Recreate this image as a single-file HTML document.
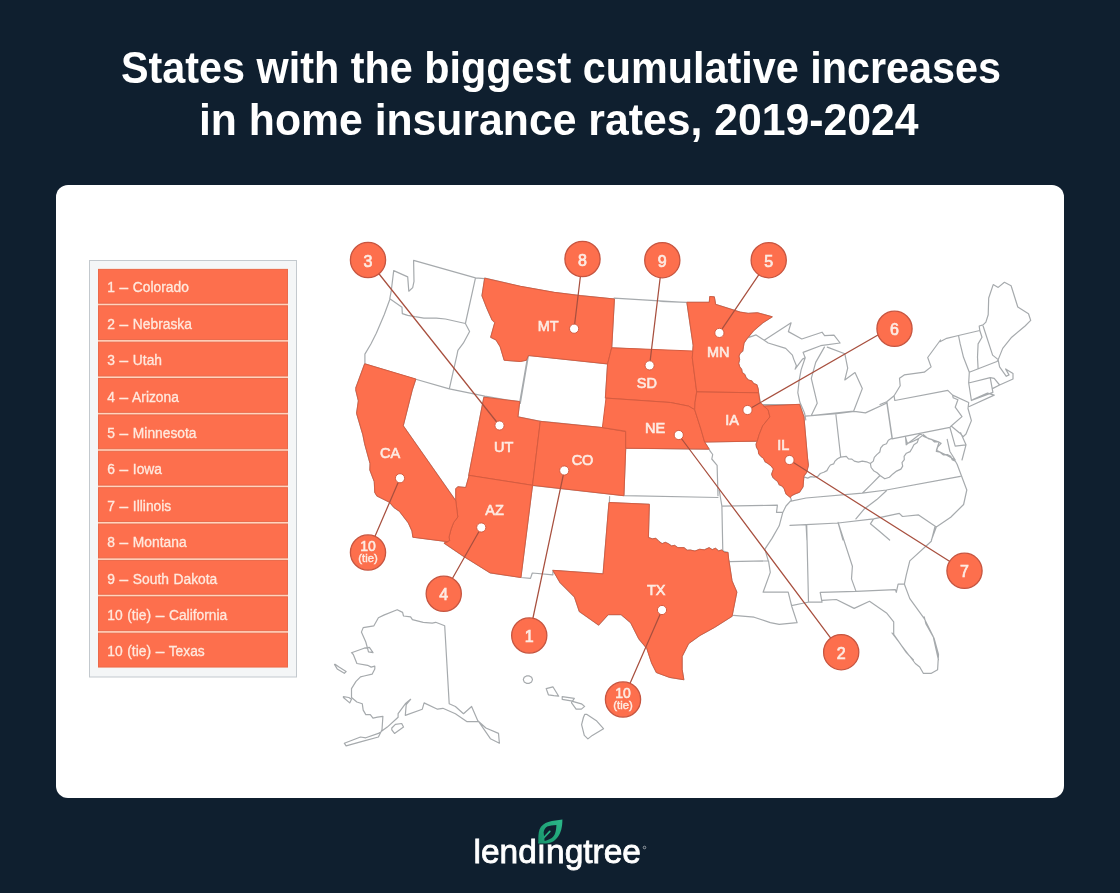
<!DOCTYPE html>
<html><head><meta charset="utf-8"><title>States with the biggest cumulative increases in home insurance rates</title>
<style>
html,body{margin:0;padding:0;width:1120px;height:893px;overflow:hidden;background:#0f1f2f;}
svg{position:absolute;left:0;top:0;filter:blur(0.45px);font-family:"Liberation Sans",sans-serif;}
</style></head><body>
<svg width="1120" height="893" viewBox="0 0 1120 893">
<rect x="56" y="185" width="1008" height="613" rx="12" fill="#fff"/>
<rect x="89.5" y="260.5" width="207" height="416.5" fill="#f4f6f7" stroke="#c3c9ce" stroke-width="1"/>
<rect x="98" y="268.9" width="190" height="398.6" fill="#ffd3bd"/>
<rect x="98.5" y="269.40" width="189" height="33.78" fill="#fd6f4d" stroke="#ea6a4b" stroke-width="1"/>
<text x="107.3" y="292.49" font-size="13.8" word-spacing="0.8" fill="#ffe9de" stroke="#ffe9de" stroke-width="0.3">1 <tspan font-size="15.5">–</tspan> Colorado</text>
<rect x="98.5" y="305.78" width="189" height="33.78" fill="#fd6f4d" stroke="#ea6a4b" stroke-width="1"/>
<text x="107.3" y="328.87" font-size="13.8" word-spacing="0.8" fill="#ffe9de" stroke="#ffe9de" stroke-width="0.3">2 <tspan font-size="15.5">–</tspan> Nebraska</text>
<rect x="98.5" y="342.16" width="189" height="33.78" fill="#fd6f4d" stroke="#ea6a4b" stroke-width="1"/>
<text x="107.3" y="365.25" font-size="13.8" word-spacing="0.8" fill="#ffe9de" stroke="#ffe9de" stroke-width="0.3">3 <tspan font-size="15.5">–</tspan> Utah</text>
<rect x="98.5" y="378.55" width="189" height="33.78" fill="#fd6f4d" stroke="#ea6a4b" stroke-width="1"/>
<text x="107.3" y="401.64" font-size="13.8" word-spacing="0.8" fill="#ffe9de" stroke="#ffe9de" stroke-width="0.3">4 <tspan font-size="15.5">–</tspan> Arizona</text>
<rect x="98.5" y="414.93" width="189" height="33.78" fill="#fd6f4d" stroke="#ea6a4b" stroke-width="1"/>
<text x="107.3" y="438.02" font-size="13.8" word-spacing="0.8" fill="#ffe9de" stroke="#ffe9de" stroke-width="0.3">5 <tspan font-size="15.5">–</tspan> Minnesota</text>
<rect x="98.5" y="451.31" width="189" height="33.78" fill="#fd6f4d" stroke="#ea6a4b" stroke-width="1"/>
<text x="107.3" y="474.40" font-size="13.8" word-spacing="0.8" fill="#ffe9de" stroke="#ffe9de" stroke-width="0.3">6 <tspan font-size="15.5">–</tspan> Iowa</text>
<rect x="98.5" y="487.69" width="189" height="33.78" fill="#fd6f4d" stroke="#ea6a4b" stroke-width="1"/>
<text x="107.3" y="510.78" font-size="13.8" word-spacing="0.8" fill="#ffe9de" stroke="#ffe9de" stroke-width="0.3">7 <tspan font-size="15.5">–</tspan> Illinois</text>
<rect x="98.5" y="524.07" width="189" height="33.78" fill="#fd6f4d" stroke="#ea6a4b" stroke-width="1"/>
<text x="107.3" y="547.16" font-size="13.8" word-spacing="0.8" fill="#ffe9de" stroke="#ffe9de" stroke-width="0.3">8 <tspan font-size="15.5">–</tspan> Montana</text>
<rect x="98.5" y="560.45" width="189" height="33.78" fill="#fd6f4d" stroke="#ea6a4b" stroke-width="1"/>
<text x="107.3" y="583.55" font-size="13.8" word-spacing="0.8" fill="#ffe9de" stroke="#ffe9de" stroke-width="0.3">9 <tspan font-size="15.5">–</tspan> South Dakota</text>
<rect x="98.5" y="596.84" width="189" height="33.78" fill="#fd6f4d" stroke="#ea6a4b" stroke-width="1"/>
<text x="107.3" y="619.93" font-size="13.8" word-spacing="0.8" fill="#ffe9de" stroke="#ffe9de" stroke-width="0.3">10 (tie) <tspan font-size="15.5">–</tspan> California</text>
<rect x="98.5" y="633.22" width="189" height="33.78" fill="#fd6f4d" stroke="#ea6a4b" stroke-width="1"/>
<text x="107.3" y="656.31" font-size="13.8" word-spacing="0.8" fill="#ffe9de" stroke="#ffe9de" stroke-width="0.3">10 (tie) <tspan font-size="15.5">–</tspan> Texas</text>
<g fill="none" stroke="#a6aaad" stroke-width="1.2" stroke-linejoin="round" stroke-linecap="round"><path d="M413.6,260.4 L414.0,281.4 L412.7,287.6 L408.8,291.2 L407.7,276.9 L393.7,270.6 L391.2,291.2 L389.8,298.7M413.6,260.4 L475.5,277.8 L484.4,278.7M475.5,277.8 L465.4,323.5M389.8,298.7 L392.0,300.2 L402.0,307.3 L402.3,313.6 L407.7,315.4 L414.9,316.7 L423.9,318.1 L436.4,318.1 L445.4,319.0 L465.4,323.5M389.7,299.7 L384.3,314.5 L376.3,333.3 L370.9,344.0 L364.9,354.1 L364.9,362.9M465.4,323.5 L469.6,331.5 L463.3,343.2 L457.9,350.4 L457.0,354.8 L449.3,388.9M364.7,363.8 L414.9,379.0 L449.3,388.9M449.3,388.9 L484.8,396.1 L519.7,402.3M527.8,355.7 L519.7,402.3M484.7,278.2 L520.3,286.3 L553.9,292.3 L580.8,295.7 L614.4,299.0M614.1,298.2 L680.0,302.1M614.4,299.0 L611.7,347.8 L607.6,363.9M607.6,363.9 L605.4,398.0M607.6,363.9 L528.4,355.5M528.4,355.5 L526.4,360.2 L520.3,361.5 L504.2,360.2 L500.2,346.7 L496.1,340.0 L490.7,337.3 L494.8,322.6 L492.1,319.9 L486.7,307.8 L482.0,295.7 L484.7,278.2M528.4,355.9 L520.3,403.4M611.7,347.8 L680.0,351.4M686.9,302.3 L709.3,302.3 L709.8,296.5 L714.3,296.9 L715.6,304.4 L740.0,312.1 L748.1,313.4 L757.5,312.8 L772.2,316.8M660.0,301.4 L686.9,302.3M772.2,316.8 L762.8,322.8 L753.4,330.9 L746.7,339.0 L744.0,343.0 L742.7,351.1M742.7,351.1 L740.2,353.1 L738.9,356.0 L739.6,359.6 L738.6,363.3 L739.7,366.8 L741.6,369.3 L742.2,372.6 L744.8,374.6 L746.0,377.5 L748.3,380.0 L751.6,380.8 L753.7,383.6 L756.8,384.7 L758.1,388.7 L758.6,392.8M686.9,302.3 L693.2,345.3 L692.3,357.8 L696.7,391.9M696.7,391.9 L758.6,392.8M696.7,391.9 L694.9,402.6 L699.4,413.4 L703.0,430.0M758.6,392.8 L760.4,402.6 L767.5,411.6 L769.3,418.7M748.1,337.6 L756.1,334.9 L764.2,340.3 L791.1,322.8 L788.4,331.6 L801.8,339.0 L822.0,332.2 L824.6,335.6 L834.0,335.2 L840.1,343.0 L820.6,345.7 L803.1,352.4 L805.2,357.8M764.2,340.3 L768.2,343.0 L785.7,348.4 L792.4,355.1 L793.7,359.1 L796.4,365.8 L795.1,369.2 L802.5,359.1 L805.2,357.8M805.2,357.8 L801.1,369.9 L799.1,380.6 L797.8,392.7 L799.8,402.1 L804.5,412.9 L805.8,420.0M760.4,404.6 L799.7,404.6M824.4,347.1 L815.7,362.4 L811.3,378.4 L817.2,403.2 L811.3,415.5 L853.6,411.2 L862.3,388.6 L855.0,372.6 L844.8,379.9 L847.7,368.2 L844.8,353.7 L827.3,347.1M364.7,363.8 L355.8,388.0M355.8,390.0 L358.4,400.8 L356.6,413.3 L362.9,434.8 L364.7,443.8 L370.1,463.5 L369.9,470.0 L374.3,481.6 L374.8,492.4 L377.0,496.0 L389.6,502.3 L394.1,507.6 L399.4,511.2 L408.4,522.9 L412.0,530.9 L412.9,537.2M412.9,537.2 L447.8,541.7 L444.3,543.2M412.2,390.0 L403.2,425.8 L455.8,500.9M415.8,379.0 L412.2,390.0M455.8,500.9 L457.8,517.0 L453.7,522.4 L451.1,529.1 L449.0,537.2 L449.7,540.5 L444.3,543.2M483.9,397.2 L468.7,475.7M469.2,475.4 L465.8,487.5 L457.8,486.8 L455.8,488.8 L455.8,500.9M483.9,397.2 L519.7,401.6 L517.9,416.9 L540.3,421.4M469.2,475.4 L532.5,485.3M540.3,421.4 L532.5,485.3M520.0,418.7 L541.5,421.4 L602.4,427.6M602.4,427.6 L625.7,431.6 L625.7,448.2M625.7,448.2 L623.9,495.7M532.5,485.3 L623.9,495.7M606.0,398.1 L670.5,402.5 L688.5,406.1 L694.7,409.7M694.7,409.7 L701.0,429.4 L704.6,442.0 L709.1,449.1M625.7,448.2 L709.1,449.1M709.1,449.1 L710.0,450.9 L712.7,454.5 L711.8,459.0 L717.1,465.3 L718.0,495.7M623.9,495.7 L718.0,497.5M609.6,496.6 L607.8,550.0M757.3,390.0 L760.0,402.5 L768.1,409.7 L769.9,416.9 L762.7,425.8 L759.1,434.8 L757.3,441.1M700.0,442.0 L757.3,441.1M701.8,420.5 L703.6,442.0 L709.0,449.1M757.3,441.1 L756.1,444.1 L756.5,447.3 L758.3,450.1 L758.7,453.7 L760.9,456.3 L763.6,458.4 L765.1,461.7 L768.1,463.5 L771.1,465.9 L773.5,468.9 L771.7,474.2 L772.8,477.3 L775.3,479.6 L777.8,481.6 L779.2,484.7 L782.3,486.1 L784.2,488.6 L786.0,493.9 L790.5,497.5 L791.4,500.2M763.6,406.1 L799.5,404.3M799.5,404.3 L803.9,416.9 L807.5,458.1 L808.4,465.3 L806.6,472.4 L803.9,476.0 L803.0,486.8 L799.5,492.2 L795.0,493.9 L791.4,495.7M886.9,401.6 L892.3,438.4M444.3,543.2 L463.1,556.0 L490.0,572.8 L520.9,577.5M532.5,485.3 L520.9,577.5M520.6,577.5 L530.5,578.4 L532.3,573.0 L552.9,574.8 L552.9,570.3M552.9,570.3 L603.1,573.9M603.1,573.9 L609.0,502.5M609.0,502.5 L649.3,504.3 L648.4,537.5M648.4,537.5 L652.3,538.9 L655.8,538.3 L659.0,541.5 L662.1,543.7 L665.3,542.4 L668.4,543.8 L671.5,546.0 L674.6,545.4 L677.8,547.7 L684.0,547.7 L687.1,550.3 L690.3,550.1 L695.0,551.1 L699.7,549.3 L704.4,549.9 L709.1,547.7 L712.2,549.7 L715.4,548.3 L718.6,550.9 L721.7,550.1 L724.8,552.6 L727.9,552.4M719.2,490.0 L721.9,506.1 L722.8,550.9 L728.1,552.7M721.9,506.1 L777.4,505.2 L776.5,512.4 L782.8,512.4M782.8,512.4 L779.2,525.8 L772.0,538.4 L764.9,549.1 L768.5,561.7M729.0,561.7 L768.5,560.8M768.5,560.8 L770.3,572.4 L763.1,592.2 L788.2,592.2 L791.8,606.5 L797.1,622.6M733.5,615.4 L754.1,617.2 L770.3,622.6 L779.2,624.4 L797.1,622.6M934.9,526.9 L931.3,541.2 L909.8,560.9M909.8,560.9 L906.2,575.3 L904.4,584.2M856.0,591.4 L895.4,589.6 L896.3,592.3 L898.1,584.2 L904.4,584.2M838.1,522.4 L852.4,566.3 L851.5,578.9 L856.0,591.4M820.2,592.3 L856.0,591.4M806.7,525.1 L808.5,602.2M808.5,602.2 L822.0,602.2 L820.2,592.3M822.0,600.4 L836.3,599.5 L854.2,608.4 L869.5,601.3 L886.5,612.9 L893.7,621.9 L893.7,634.4 L906.2,652.3 L913.4,660.0M904.4,584.2 L909.8,598.6 L924.1,618.3 L933.1,636.2 L938.5,660.0M791.5,605.7 L804.1,603.0 L808.5,602.2M892.0,633.0 L915.3,663.5 L919.7,667.0 L923.3,673.3 L931.4,673.3 L937.6,669.7 L938.5,654.5 L934.1,638.4 L926.0,624.0 L924.2,616.9M560.0,582.5 L574.5,597.0 L579.3,611.4 L598.6,625.1 L608.2,614.6 L621.1,614.6 L630.7,622.7 L638.8,638.8 L646.8,648.4 L651.6,662.9 L656.4,672.5 L669.3,677.3 L683.8,679.7 L682.1,669.3 L682.1,656.4 L688.6,643.6 L699.8,635.5 L714.3,627.5 L732.0,616.3 L733.6,608.2 L736.8,592.1 L732.0,580.9 L728.8,560.0M728.1,552.7 L729.0,577.8 L732.0,580.9 L736.8,592.1 L733.6,608.2 L732.0,616.3M552.9,570.3 L560.0,582.5 L574.5,597.0 L579.3,611.4 L598.6,625.1 L608.2,614.6 L621.1,614.6 L630.7,622.7 L638.8,638.8M805.3,416.1 L836.6,413.7 L854.3,411.3M854.3,411.3 L865.5,412.9 L886.4,403.2M835.8,413.7 L840.6,456.3M804.5,477.1 L807.7,478.1 L810.9,476.6 L814.1,477.1 L817.8,476.4 L820.3,473.5 L823.8,472.3 L826.9,470.6 L828.6,467.5 L830.4,465.0 L833.6,463.9 L835.0,461.1 L837.5,458.7 L840.6,457.1 L846.3,456.3 L848.5,458.8 L851.9,459.1 L854.3,461.1 L858.3,462.1 L862.3,461.1 L866.5,461.8 L870.4,463.5 L873.3,461.1 L874.3,457.3 L876.8,454.6 L879.8,452.0 L880.7,447.9 L883.2,445.0 L886.5,443.7 L888.3,440.3 L891.3,438.6M870.4,463.5 L871.1,467.5 L873.6,470.7 L877.1,472.7 L880.0,475.5 L884.8,478.8 L889.4,477.2 L892.9,473.9 L896.6,471.1 L900.9,469.1 L902.7,466.1 L902.0,462.6 L904.3,459.7 L904.1,456.3 L906.4,453.2 L910.1,451.6 L912.1,448.2 L913.9,444.7 L917.3,442.4 L918.6,438.6 L923.4,434.6 L928.2,438.6 L931.6,439.3 L934.3,441.9 L938.0,441.7 L941.1,443.4 L937.8,446.9 L936.3,451.4 L940.1,452.2 L943.2,454.8 L947.3,454.6 L950.7,456.3 L952.1,459.6 L955.4,461.3 L957.1,464.3M905.7,437.8 L907.3,443.4 L912.1,441.8 L918.6,438.6M880.0,475.5 L872.0,483.6 L862.3,493.2M790.0,501.3 L806.1,498.0 L862.3,493.2 L886.4,490.0 L960.4,476.3M886.4,490.8 L876.8,499.6 L863.9,509.3 L855.9,518.9M790.0,525.4 L806.1,524.6 L838.2,523.0 L873.6,518.9 L899.3,513.3 L902.5,516.5 L918.6,514.9 L936.3,527.0M957.1,464.3 L966.8,490.0 L963.6,504.5 L950.7,517.3 L936.3,527.0 L931.4,540.0M806.1,524.6 L806.9,540.0M838.2,523.0 L843.0,540.0M873.6,518.9 L870.4,523.8 L880.0,531.8 L889.6,540.0M880.0,404.5 L886.7,401.8 L894.1,395.8 L900.2,385.7 L899.5,378.3 L904.2,374.9 L924.3,372.2 L931.1,366.9 L927.7,357.5 L940.5,340.0M894.1,395.8 L894.8,400.5 L947.8,390.4 L952.6,395.1 L953.2,397.8M886.7,401.8 L892.1,438.8M892.1,438.8 L949.9,427.3M953.2,397.8 L957.9,399.8 L955.2,407.2 L962.0,416.6 L951.2,426.0 L949.9,427.3M952.6,395.1 L968.7,402.5M968.7,402.5 L968.0,408.5 L971.4,420.6 L966.0,434.0 L963.3,436.7M951.2,426.0 L959.3,432.7 L963.3,436.7M949.9,427.3 L955.2,446.1 L966.0,444.8 L960.6,432.7M966.0,444.8 L962.0,460.0M905.5,436.7 L906.2,444.8 L920.3,434.0 L924.3,436.7 L931.1,439.4 L939.1,442.1 L936.4,450.2 L947.2,455.5 L955.2,460.0M947.2,439.4 L949.9,451.5 L955.2,460.0M969.3,406.5 L994.2,395.1 L987.5,393.1 L974.0,399.1 L971.4,400.5M969.3,372.2 L968.7,383.0 L971.4,400.5M968.7,383.0 L990.2,377.6 L992.9,392.4 L971.4,400.5M990.2,377.6 L994.2,378.3 L999.6,385.0 L992.9,388.4M969.3,372.2 L996.9,361.5 L998.2,360.2 L999.6,366.9 L1006.3,376.3 L1009.0,374.9 L1005.6,368.9 L1013.0,373.6 L1013.0,379.0 L999.6,385.0M791.4,500.2 L786.0,506.0 L782.8,512.4M940.0,341.7 L946.7,338.3 L958.5,335.5 L979.8,330.5 L979.2,326.0 L983.1,324.9 L985.9,322.1 L988.2,314.8 L988.7,298.0 L993.2,284.6 L998.2,287.4 L1004.4,282.3 L1011.1,285.7 L1017.8,307.0 L1028.5,313.7 L1030.7,320.4 L1025.1,326.0 L1011.7,337.2 L1002.7,348.4 L998.2,359.6M958.5,335.5 L960.2,343.9 L963.5,357.3 L969.3,372.2M979.8,330.5 L982.0,337.2 L978.1,343.9 L977.5,357.3 L978.1,368.8M983.1,326.0 L992.6,355.1 L998.2,359.6"/><path d="M397.2,609.7 L402.6,612.4 L403.5,616.0 L410.6,616.9 L412.4,619.6 L423.2,622.3 L432.2,623.2 L435.7,622.3 L444.7,625.8 L449.2,703.8 L455.4,706.5 L463.5,713.7 L471.6,706.5 L477.8,720.8 L485.9,728.0 L498.5,733.4 L499.4,743.2 L490.4,738.7 L478.7,721.7 L467.1,721.7 L455.4,713.7 L442.9,708.3 L437.5,709.2 L424.1,702.9 L422.3,709.2 L405.3,715.4 L406.2,704.7 L410.6,699.3 L405.3,703.8 L398.1,713.7 L398.1,717.2 L387.3,727.1 L378.4,733.4 L365.8,737.8 L360.5,737.0 L344.3,743.2 L346.1,745.9 L362.3,741.4 L378.4,737.0 L382.0,729.8 L382.9,716.3 L377.5,717.2 L373.0,718.1 L370.3,714.6 L365.8,714.6 L363.2,710.1 L362.3,703.8 L356.9,702.0 L351.5,697.5 L351.5,688.6 L356.0,681.4 L360.5,676.9 L364.1,676.0 L372.1,674.2 L374.8,668.9 L374.8,666.2 L371.2,667.1 L367.6,665.3 L356.9,663.5 L353.3,654.5 L351.5,652.7 L364.1,648.2 L369.4,647.3 L373.0,652.7 L368.5,651.8 L365.8,642.0 L361.4,632.1 L363.2,627.6 L373.9,625.8 L378.4,617.8 L383.8,615.1ZM334.5,664.4 L337.2,668.9 L344.3,673.3 L346.1,671.5 L339.0,667.1 L335.4,664.4ZM343.4,696.6 L348.8,697.5 L351.5,699.3 L349.7,702.9 L343.4,697.5ZM391.8,728.0 L395.4,724.4 L401.7,723.5 L403.5,727.1 L394.5,733.4 L391.8,729.8ZM546.2,688.6 L552.9,686.8 L558.7,696.2 L553.8,695.7 L548.4,694.8ZM562.2,696.6 L574.3,698.4 L572.5,701.1 L562.2,699.3ZM571.6,701.1 L581.4,703.8 L584.6,706.4 L581.4,709.1 L576.1,709.1 L571.6,702.9ZM584.7,714.4 L587.0,714.4 L596.8,721.1 L603.5,728.7 L592.3,735.4 L587.9,738.9 L584.3,735.4 L581.6,724.6 L583.4,717.5ZM532.5,679.6 L531.6,681.9 L529.3,683.3 L526.5,683.3 L524.2,681.9 L523.3,679.6 L524.2,677.3 L526.5,675.9 L529.3,675.9 L531.6,677.3Z"/></g>
<g fill="#fd6f4d" stroke="#d65c40" stroke-width="1" stroke-linejoin="round"><path d="M484.7,278.2 L520.3,286.3 L553.9,292.3 L580.8,295.7 L614.4,299.0 L611.7,347.8 L607.6,363.9 L528.4,355.5 L526.4,360.2 L520.3,361.5 L504.2,360.2 L500.2,346.7 L496.1,340.0 L490.7,337.3 L494.8,322.6 L492.1,319.9 L486.7,307.8 L482.0,295.7 L484.7,278.2Z"/><path d="M483.9,397.2 L519.7,401.6 L517.9,416.9 L540.3,421.4 L532.5,485.3 L469.2,475.4 L468.7,475.7 L483.9,397.2Z"/><path d="M540.3,421.4 L602.4,427.6 L625.7,431.6 L625.7,448.2 L623.9,495.7 L532.5,485.3Z"/><path d="M469.2,475.4 L532.5,485.3 L520.9,577.5 L490.0,572.8 L463.1,556.0 L444.3,543.2 L449.7,540.5 L449.0,537.2 L451.1,529.1 L453.7,522.4 L457.8,517.0 L455.8,500.9 L455.8,488.8 L457.8,486.8 L465.8,487.5 L469.2,475.4Z"/><path d="M364.7,363.8 L415.8,379.0 L412.2,390.0 L403.2,425.8 L455.8,500.9 L457.8,517.0 L453.7,522.4 L451.1,529.1 L449.0,537.2 L449.7,540.5 L444.3,543.2 L447.8,541.7 L412.9,537.2 L412.0,530.9 L408.4,522.9 L399.4,511.2 L394.1,507.6 L389.6,502.3 L377.0,496.0 L374.8,492.4 L374.3,481.6 L369.9,470.0 L370.1,463.5 L364.7,443.8 L362.9,434.8 L356.6,413.3 L358.4,400.8 L355.8,390.0 L355.8,388.0 L364.7,363.8Z"/><path d="M611.7,347.8 L692.8,351.0 L692.3,357.8 L696.7,391.9 L695.0,402.6 L694.7,409.7 L688.5,406.1 L670.5,402.5 L606.0,398.1 L605.4,398.0 L607.6,363.9Z"/><path d="M606.0,398.1 L670.5,402.5 L688.5,406.1 L694.7,409.7 L701.0,429.4 L704.6,442.0 L709.1,449.1 L625.7,448.2 L625.7,431.2 L602.4,427.6Z"/><path d="M686.9,302.3 L709.3,302.3 L709.8,296.5 L714.3,296.9 L715.6,304.4 L740.0,312.1 L748.1,313.4 L757.5,312.8 L772.2,316.8 L762.8,322.8 L753.4,330.9 L746.7,339.0 L744.0,343.0 L742.7,351.1 L740.2,353.1 L738.9,356.0 L739.6,359.6 L738.6,363.3 L739.7,366.8 L741.6,369.3 L742.2,372.6 L744.8,374.6 L746.0,377.5 L748.3,380.0 L751.6,380.8 L753.7,383.6 L756.8,384.7 L758.1,388.7 L758.6,392.8 L696.7,391.9 L692.3,357.8 L693.2,345.3 L686.9,302.3Z"/><path d="M696.7,391.9 L758.6,392.8 L760.0,402.5 L768.1,409.7 L769.9,416.9 L762.7,425.8 L759.1,434.8 L757.3,441.1 L706.0,442.0 L704.6,442.0 L701.0,429.4 L694.7,409.7 L695.0,402.6Z"/><path d="M763.6,406.1 L799.5,404.3 L803.9,416.9 L807.5,458.1 L808.4,465.3 L806.6,472.4 L803.9,476.0 L803.0,486.8 L799.5,492.2 L795.0,493.9 L791.4,495.7 L790.5,497.5 L786.0,493.9 L784.2,488.6 L782.3,486.1 L779.2,484.7 L777.8,481.6 L775.3,479.6 L772.8,477.3 L771.7,474.2 L773.5,468.9 L771.1,465.9 L768.1,463.5 L765.1,461.7 L763.6,458.4 L760.9,456.3 L758.7,453.7 L758.3,450.1 L756.5,447.3 L756.1,444.1 L757.3,441.1 L759.1,434.8 L762.7,425.8 L769.9,416.9 L768.1,409.7Z"/><path d="M609.0,502.5 L649.3,504.3 L648.4,537.5 L652.3,538.9 L655.8,538.3 L659.0,541.5 L662.1,543.7 L665.3,542.4 L668.4,543.8 L671.5,546.0 L674.6,545.4 L677.8,547.7 L684.0,547.7 L687.1,550.3 L690.3,550.1 L695.0,551.1 L699.7,549.3 L704.4,549.9 L709.1,547.7 L712.2,549.7 L715.4,548.3 L718.6,550.9 L721.7,550.1 L724.8,552.6 L727.9,552.4 L728.8,560.0 L732.0,580.9 L736.8,592.1 L733.6,608.2 L732.0,616.3 L714.3,627.5 L699.8,635.5 L688.6,643.6 L682.1,656.4 L682.1,669.3 L683.8,679.7 L669.3,677.3 L656.4,672.5 L651.6,662.9 L646.8,648.4 L638.8,638.8 L630.7,622.7 L621.1,614.6 L608.2,614.6 L598.6,625.1 L579.3,611.4 L574.5,597.0 L560.0,582.5 L552.9,570.3 L603.1,573.9Z"/></g>
<path d="M368.0,260.0 L499.5,425.5 M582.5,259.0 L574.1,328.7 M662.3,260.2 L649.6,365.4 M768.7,260.2 L719.4,332.9 M894.5,325.5 L747.5,410.0 M964.5,570.8 L789.5,460.0 M841.2,652.2 L678.75,435.0 M529.25,635.5 L564.25,470.5 M443.75,593.75 L481.25,527.5 M368.0,552.5 L400.0,478.25 M623.0,699.5 L662.0,610.0" stroke="#a8503f" stroke-width="1.25" fill="none"/>
<circle cx="499.5" cy="425.5" r="4.6" fill="#fff" stroke="#d65c40" stroke-width="1"/>
<circle cx="574.1" cy="328.7" r="4.6" fill="#fff" stroke="#d65c40" stroke-width="1"/>
<circle cx="649.6" cy="365.4" r="4.6" fill="#fff" stroke="#d65c40" stroke-width="1"/>
<circle cx="719.4" cy="332.9" r="4.6" fill="#fff" stroke="#d65c40" stroke-width="1"/>
<circle cx="747.5" cy="410.0" r="4.6" fill="#fff" stroke="#d65c40" stroke-width="1"/>
<circle cx="789.5" cy="460.0" r="4.6" fill="#fff" stroke="#d65c40" stroke-width="1"/>
<circle cx="678.75" cy="435.0" r="4.6" fill="#fff" stroke="#d65c40" stroke-width="1"/>
<circle cx="564.25" cy="470.5" r="4.6" fill="#fff" stroke="#d65c40" stroke-width="1"/>
<circle cx="481.25" cy="527.5" r="4.6" fill="#fff" stroke="#d65c40" stroke-width="1"/>
<circle cx="400.0" cy="478.25" r="4.6" fill="#fff" stroke="#d65c40" stroke-width="1"/>
<circle cx="662.0" cy="610.0" r="4.6" fill="#fff" stroke="#d65c40" stroke-width="1"/>
<circle cx="368.0" cy="260.0" r="17.6" fill="#fd6f4d" stroke="#c65540" stroke-width="1.3"/>
<text x="368.0" y="266.6" font-size="16" fill="#fdebe3" stroke="#fdebe3" stroke-width="0.7" text-anchor="middle">3</text>
<circle cx="582.5" cy="259.0" r="17.6" fill="#fd6f4d" stroke="#c65540" stroke-width="1.3"/>
<text x="582.5" y="265.6" font-size="16" fill="#fdebe3" stroke="#fdebe3" stroke-width="0.7" text-anchor="middle">8</text>
<circle cx="662.3" cy="260.2" r="17.6" fill="#fd6f4d" stroke="#c65540" stroke-width="1.3"/>
<text x="662.3" y="266.8" font-size="16" fill="#fdebe3" stroke="#fdebe3" stroke-width="0.7" text-anchor="middle">9</text>
<circle cx="768.7" cy="260.2" r="17.6" fill="#fd6f4d" stroke="#c65540" stroke-width="1.3"/>
<text x="768.7" y="266.8" font-size="16" fill="#fdebe3" stroke="#fdebe3" stroke-width="0.7" text-anchor="middle">5</text>
<circle cx="894.5" cy="328.75" r="17.6" fill="#fd6f4d" stroke="#c65540" stroke-width="1.3"/>
<text x="894.5" y="335.35" font-size="16" fill="#fdebe3" stroke="#fdebe3" stroke-width="0.7" text-anchor="middle">6</text>
<circle cx="964.5" cy="570.8" r="17.6" fill="#fd6f4d" stroke="#c65540" stroke-width="1.3"/>
<text x="964.5" y="577.4" font-size="16" fill="#fdebe3" stroke="#fdebe3" stroke-width="0.7" text-anchor="middle">7</text>
<circle cx="841.2" cy="652.2" r="17.6" fill="#fd6f4d" stroke="#c65540" stroke-width="1.3"/>
<text x="841.2" y="658.8000000000001" font-size="16" fill="#fdebe3" stroke="#fdebe3" stroke-width="0.7" text-anchor="middle">2</text>
<circle cx="529.25" cy="635.5" r="17.6" fill="#fd6f4d" stroke="#c65540" stroke-width="1.3"/>
<text x="529.25" y="642.1" font-size="16" fill="#fdebe3" stroke="#fdebe3" stroke-width="0.7" text-anchor="middle">1</text>
<circle cx="443.75" cy="593.75" r="17.6" fill="#fd6f4d" stroke="#c65540" stroke-width="1.3"/>
<text x="443.75" y="600.35" font-size="16" fill="#fdebe3" stroke="#fdebe3" stroke-width="0.7" text-anchor="middle">4</text>
<circle cx="368.0" cy="552.5" r="17.6" fill="#fd6f4d" stroke="#c65540" stroke-width="1.3"/>
<text x="368.0" y="550.5" font-size="14" fill="#fdebe3" stroke="#fdebe3" stroke-width="0.55" text-anchor="middle">10</text>
<text x="368.0" y="562.1" font-size="11.3" fill="#fdebe3" stroke="#fdebe3" stroke-width="0.45" text-anchor="middle">(tie)</text>
<circle cx="623.0" cy="699.5" r="17.6" fill="#fd6f4d" stroke="#c65540" stroke-width="1.3"/>
<text x="623.0" y="697.5" font-size="14" fill="#fdebe3" stroke="#fdebe3" stroke-width="0.55" text-anchor="middle">10</text>
<text x="623.0" y="709.1" font-size="11.3" fill="#fdebe3" stroke="#fdebe3" stroke-width="0.45" text-anchor="middle">(tie)</text>
<text x="548.1" y="331.09999999999997" font-size="14.5" fill="#fdebe3" stroke="#fdebe3" stroke-width="0.6" text-anchor="middle">MT</text>
<text x="646.8" y="388.0" font-size="14.5" fill="#fdebe3" stroke="#fdebe3" stroke-width="0.6" text-anchor="middle">SD</text>
<text x="718.3" y="357.09999999999997" font-size="14.5" fill="#fdebe3" stroke="#fdebe3" stroke-width="0.6" text-anchor="middle">MN</text>
<text x="732" y="424.7" font-size="14.5" fill="#fdebe3" stroke="#fdebe3" stroke-width="0.6" text-anchor="middle">IA</text>
<text x="655" y="432.7" font-size="14.5" fill="#fdebe3" stroke="#fdebe3" stroke-width="0.6" text-anchor="middle">NE</text>
<text x="783.25" y="449.7" font-size="14.5" fill="#fdebe3" stroke="#fdebe3" stroke-width="0.6" text-anchor="middle">IL</text>
<text x="503.75" y="452.2" font-size="14.5" fill="#fdebe3" stroke="#fdebe3" stroke-width="0.6" text-anchor="middle">UT</text>
<text x="390" y="458.2" font-size="14.5" fill="#fdebe3" stroke="#fdebe3" stroke-width="0.6" text-anchor="middle">CA</text>
<text x="494.5" y="515.2" font-size="14.5" fill="#fdebe3" stroke="#fdebe3" stroke-width="0.6" text-anchor="middle">AZ</text>
<text x="582.5" y="464.7" font-size="14.5" fill="#fdebe3" stroke="#fdebe3" stroke-width="0.6" text-anchor="middle">CO</text>
<text x="656.25" y="595.2" font-size="14.5" fill="#fdebe3" stroke="#fdebe3" stroke-width="0.6" text-anchor="middle">TX</text>
<text x="561" y="82.9" font-size="44" font-weight="bold" fill="#fff" text-anchor="middle" textLength="880" lengthAdjust="spacingAndGlyphs">States with the biggest cumulative increases</text>
<text x="558.75" y="135.4" font-size="44" font-weight="bold" fill="#fff" text-anchor="middle" textLength="719.5" lengthAdjust="spacingAndGlyphs">in home insurance rates, 2019-2024</text>
<text x="473.5" y="862.9" font-size="33" fill="#fff" stroke="#fff" stroke-width="0.8" textLength="167.5" lengthAdjust="spacingAndGlyphs">lendıngtree</text>
<defs><linearGradient id="lg" x1="0" y1="1" x2="1" y2="0"><stop offset="0" stop-color="#17936b"/><stop offset="1" stop-color="#2cb88a"/></linearGradient></defs>
<path d="M538.4,843.4 C538.2,838 538.2,833 539.5,829.5 C541,825.5 544.5,822.8 548.3,821.9 C553,820.8 558,820.2 562.4,819.6 C562.4,823.5 562,827 561.3,829.5 C560.6,832 559.6,834.5 558,836.8 C556.5,839 554.5,841 551.5,842.3 C548.5,843.6 545,843.8 538.4,843.4Z M543.6,832.2 C544.2,829.6 545.4,827.6 547.2,826.6 C549.5,825.5 553,825.2 556.4,825 C556.3,828 556,830.6 555.2,833 C554.4,835.3 553.2,837.1 551.4,838.2 C549.6,839.3 547,840.3 544.6,840.9Z" fill="url(#lg)" fill-rule="evenodd"/>
<path d="M539.2,842.6 L549.8,831.4" stroke="url(#lg)" stroke-width="1.7" stroke-linecap="round"/>
<circle cx="644.5" cy="847.5" r="1.3" fill="none" stroke="#fff" stroke-width="0.5"/>
</svg>
</body></html>
